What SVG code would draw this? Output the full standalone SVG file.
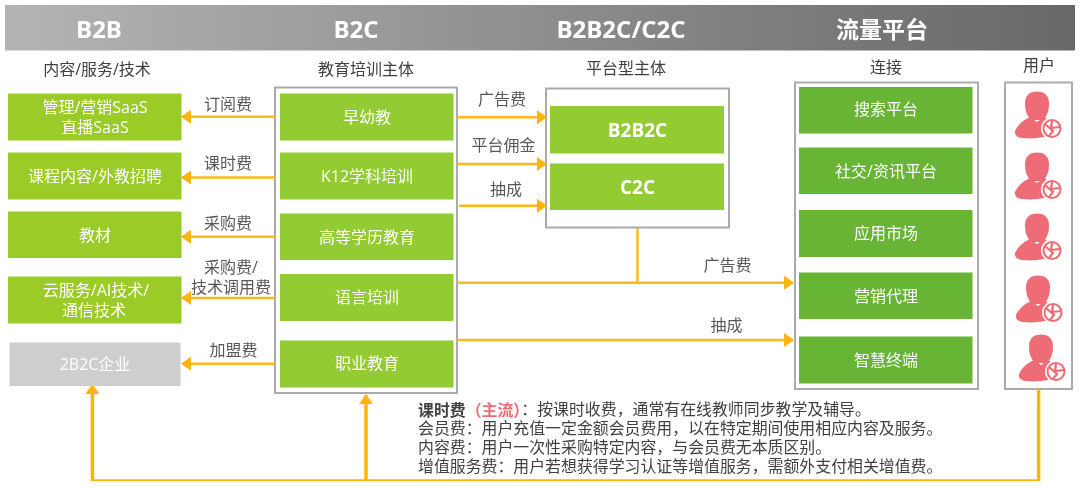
<svg xmlns="http://www.w3.org/2000/svg" width="1080" height="489" viewBox="0 0 1080 489">
<style>
text{font-family:"Open Sans","Noto Sans CJK SC",sans-serif;text-anchor:middle;dominant-baseline:central}
.h{font-size:24px;font-weight:700;fill:#fff}
.hc{font-size:23px}
.s{font-size:16px;fill:#404040}
.l{font-size:16px;fill:#595959}
.t{font-size:16px;fill:#fff}
.b{font-size:19px;font-weight:700;fill:#fff}
.n{font-family:"Liberation Sans","Noto Sans CJK SC",sans-serif;font-size:15.900px;fill:#404040;text-anchor:start}
.f{fill:#fff;stroke:#ababab;stroke-width:2}
.g1{fill:#9bcb28}.g2{fill:#92cb30}.g3{fill:#68b436}.gr{fill:#cecece}
.c{fill:none;stroke:#ffb81c;stroke-width:2.400}
.c2{fill:none;stroke:#ffb40f;stroke-width:3.500}
</style>
<defs>
<linearGradient id="hg"><stop offset="0" stop-color="#b4b4b4"/><stop offset="1" stop-color="#686868"/></linearGradient>
<filter id="soft" x="0" y="0" width="100%" height="100%"><feGaussianBlur stdDeviation="0.45"/></filter>
<marker id="a" markerUnits="userSpaceOnUse" markerWidth="10" markerHeight="14" refX="9" refY="7" orient="auto"><path d="M0 0L10 7L0 14Z" fill="#ffb40f"/></marker>
<g id="user">
<path d="M1025 104Q1025 91.500 1037 91.500Q1049 91.500 1049 104Q1049 114 1043 120H1031Q1025 114 1025 104Z" fill="#ee6c74"/>
<path d="M1030 117L1037 122L1044 117L1058 126V133Q1040 140 1022 138Q1014 137 1015 131Q1019 122 1030 117Z" fill="#ee6c74"/>
<circle cx="1052" cy="128.500" r="11" fill="#fff"/>
<circle cx="1052" cy="128.500" r="8.500" fill="none" stroke="#ee6c74" stroke-width="2"/>
<path d="M1045 124L1053 131L1049 136M1052 121L1051 128L1060 127" fill="none" stroke="#ee6c74" stroke-width="2.200"/>
</g>
</defs>
<g filter="url(#soft)">
<g id="header">
<rect x="5" y="5" width="1070" height="45.500" fill="url(#hg)"/>
<text class="h" x="99" y="28">B2B</text>
<text class="h" x="356" y="28">B2C</text>
<text class="h" x="621" y="28">B2B2C/C2C</text>
<text class="h hc" x="882" y="29">流量平台</text>
</g>
<g id="subheaders">
<text class="s" x="97" y="69">内容/服务/技术</text>
<text class="s" x="366" y="69">教育培训主体</text>
<text class="s" x="626" y="68">平台型主体</text>
<text class="s" x="886" y="67">连接</text>
<text class="s" x="1039" y="65">用户</text>
</g>
<g id="frames">
<rect class="f" x="275" y="87.500" width="182" height="305.500"/>
<rect class="f" x="546" y="88.500" width="183" height="139"/>
<rect class="f" x="795" y="82.500" width="183" height="306.500"/>
<rect class="f" x="1005" y="82.500" width="67" height="306.500"/>
</g>
<g id="connectors">
<path class="c" d="M275 116.700H182" marker-end="url(#a)"/>
<path class="c" d="M275 177.500H182" marker-end="url(#a)"/>
<path class="c" d="M275 236.700H182" marker-end="url(#a)"/>
<path class="c" d="M275 298H182" marker-end="url(#a)"/>
<path class="c" d="M275 363.700H182" marker-end="url(#a)"/>
<path class="c" d="M457 117.300H546" marker-end="url(#a)"/>
<path class="c" d="M457 164H546" marker-end="url(#a)"/>
<path class="c" d="M459 205.700H546" marker-end="url(#a)"/>
<path class="c" d="M457 282.700H793" marker-end="url(#a)"/>
<path class="c" d="M457 340H793" marker-end="url(#a)"/>
<path class="c" d="M637.500 228V282.700"/>
<path class="c2" d="M1038.600 389V481H92.400V385" marker-end="url(#a)"/>
<path class="c2" d="M366 481V395" marker-end="url(#a)"/>
</g>
<g id="edge-labels">
<text class="l" x="228" y="104">订阅费</text>
<text class="l" x="228" y="163">课时费</text>
<text class="l" x="228" y="222.500">采购费</text>
<text class="l" x="231" y="267">采购费/</text>
<text class="l" x="231" y="287">技术调用费</text>
<text class="l" x="233.500" y="350">加盟费</text>
<text class="l" x="502" y="99">广告费</text>
<text class="l" x="503.500" y="145">平台佣金</text>
<text class="l" x="506" y="189">抽成</text>
<text class="l" x="727.500" y="265">广告费</text>
<text class="l" x="726.500" y="325">抽成</text>
</g>
<g id="n-saas"><rect class="g1" x="8" y="93.500" width="173.500" height="47"/><text class="t" x="95" y="107">管理/营销SaaS</text><text class="t" x="95" y="127">直播SaaS</text></g>
<g id="n-content"><rect class="g1" x="8" y="152.500" width="173.500" height="47"/><text class="t" x="95" y="176">课程内容/外教招聘</text></g>
<g id="n-books"><rect class="g1" x="8" y="211.500" width="173.500" height="46.500"/><text class="t" x="95" y="235">教材</text></g>
<g id="n-cloud"><rect class="g1" x="8" y="276.500" width="173.500" height="47"/><text class="t" x="96" y="290">云服务/AI技术/</text><text class="t" x="94" y="310">通信技术</text></g>
<g id="n-2b2c"><rect class="gr" x="9.500" y="342.500" width="171" height="43.500"/><text class="t" x="95" y="364">2B2C企业</text></g>
<g id="n-early"><rect class="g2" x="280" y="93.500" width="173.500" height="47"/><text class="t" x="367" y="117">早幼教</text></g>
<g id="n-k12"><rect class="g2" x="280" y="152.500" width="173.500" height="47"/><text class="t" x="367" y="176">K12学科培训</text></g>
<g id="n-higher"><rect class="g2" x="280" y="213.500" width="173.500" height="46.500"/><text class="t" x="367" y="237">高等学历教育</text></g>
<g id="n-lang"><rect class="g2" x="280" y="274" width="173.500" height="47"/><text class="t" x="367" y="297">语言培训</text></g>
<g id="n-job"><rect class="g2" x="280" y="340.500" width="173.500" height="47"/><text class="t" x="367" y="363">职业教育</text></g>
<g id="n-b2b2c"><rect class="g2" x="550" y="106" width="174" height="47.500"/><text class="b" x="637.500" y="130">B2B2C</text></g>
<g id="n-c2c"><rect class="g2" x="550" y="163.500" width="174" height="46.500"/><text class="b" x="637.500" y="187">C2C</text></g>
<g id="n-search"><rect class="g3" x="799" y="87" width="173.500" height="46.500"/><text class="t" x="886" y="109">搜索平台</text></g>
<g id="n-social"><rect class="g3" x="799" y="147.500" width="173.500" height="46.500"/><text class="t" x="886" y="171">社交/资讯平台</text></g>
<g id="n-app"><rect class="g3" x="799" y="210" width="173.500" height="47"/><text class="t" x="886" y="233">应用市场</text></g>
<g id="n-agent"><rect class="g3" x="799" y="272.500" width="173.500" height="46.500"/><text class="t" x="886" y="296">营销代理</text></g>
<g id="n-terminal"><rect class="g3" x="799" y="336.500" width="173.500" height="47"/><text class="t" x="886" y="360">智慧终端</text></g>
<g id="n-users">
<use href="#user"/>
<use href="#user" y="61"/>
<use href="#user" y="122"/>
<use href="#user" x="1" y="184"/>
<use href="#user" x="4" y="243"/>
</g>
<g id="notes">
<text class="n" x="418" y="409.500"><tspan font-weight="700">课时费</tspan><tspan font-weight="700" fill="#ee6c74">（主流）</tspan>：按课时收费，通常有在线教师同步教学及辅导。</text>
<text class="n" x="418" y="428">会员费：用户充值一定金额会员费用，以在特定期间使用相应内容及服务。</text>
<text class="n" x="418" y="447">内容费：用户一次性采购特定内容，与会员费无本质区别。</text>
<text class="n" x="418" y="466">增值服务费：用户若想获得学习认证等增值服务，需额外支付相关增值费。</text>
</g>
</g>
</svg>
